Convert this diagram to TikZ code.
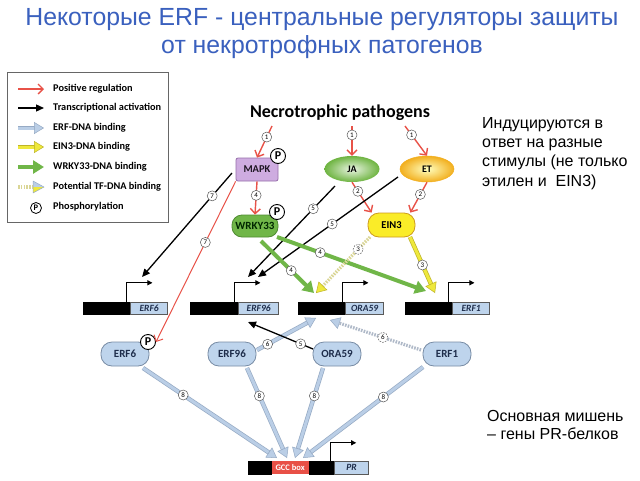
\documentclass[tikz,border=0pt]{standalone}
\usepackage{fontspec}
\setmainfont{Liberation Sans}
\newfontfamily\calfont{Carlito}
\usetikzlibrary{arrows.meta,shapes.geometric,calc}
\definecolor{titleblue}{RGB}{58,96,190}
\definecolor{redarr}{RGB}{232,82,72}
\definecolor{mapkfill}{RGB}{206,172,224}
\definecolor{mapkdraw}{RGB}{150,110,170}
\definecolor{wrkyfill}{RGB}{112,182,72}
\definecolor{wrkydraw}{RGB}{80,140,50}
\definecolor{ein3fill}{RGB}{250,236,40}
\definecolor{ein3draw}{RGB}{205,155,30}
\definecolor{protfill}{RGB}{190,212,236}
\definecolor{protdraw}{RGB}{120,140,165}
\definecolor{prottext}{RGB}{30,45,75}
\definecolor{bluearr}{RGB}{186,206,230}
\definecolor{bluearredge}{RGB}{150,170,196}
\definecolor{greenarr}{RGB}{112,182,72}
\definecolor{yellowarr}{RGB}{238,232,60}
\definecolor{yellowedge}{RGB}{190,180,40}
\definecolor{stripey}{RGB}{218,214,150}
\definecolor{stripeb}{RGB}{175,185,200}
\definecolor{gccred}{RGB}{232,80,70}
\definecolor{jagreen}{RGB}{110,180,65}
\definecolor{etorange}{RGB}{242,175,30}
\begin{document}
\begin{tikzpicture}[x=1pt,y=-1pt,
  lab/.style={circle,draw=gray!70!black,fill=white,line width=0.5pt,inner sep=0pt,minimum size=10pt,text=black,font=\calfont\fontsize{7}{7}\selectfont},
  pcirc/.style={circle,draw=black,fill=white,line width=0.9pt,inner sep=0pt,minimum size=15pt,font=\calfont\bfseries\fontsize{12}{12}\selectfont},
  redarrow/.style={draw=redarr,line width=1.4pt,-{Straight Barb[length=5pt,width=10pt]}},
  thinred/.style={draw=redarr,line width=1pt,-{Straight Barb[length=5pt,width=10pt]}},
  blackarrow/.style={draw=black,line width=1.3pt,-{Triangle[length=8pt,width=7pt]}},
  bluebind/.style={draw=bluearr,line width=3pt,preaction={draw=bluearredge,line width=4.4pt,-,shorten >=8pt},-{Triangle[length=10pt,width=12pt,fill=bluearr,color=bluearredge,line width=0.5pt]}},
  yellowbind/.style={draw=yellowarr,line width=3pt,preaction={draw=yellowedge,line width=4.4pt,-,shorten >=8pt},-{Triangle[length=10pt,width=12pt,fill=yellowarr,color=yellowedge,line width=0.5pt]}},
  greenbind/.style={draw=greenarr,line width=4pt,-{Triangle[length=11pt,width=13pt]}},
  potyellow/.style={draw=stripey,line width=3.2pt,dash pattern=on 1.6pt off 1.2pt,-{Triangle[length=10pt,width=12pt,fill=yellowarr,color=yellowedge,line width=0.5pt]}},
  potblue/.style={draw=stripeb,line width=3.2pt,dash pattern=on 1.6pt off 1.2pt,-{Triangle[length=10pt,width=12pt,fill=bluearr,color=bluearredge,line width=0.5pt]}},
  prot/.style={rectangle,rounded corners=11pt,draw=protdraw,fill=protfill,line width=0.8pt,minimum width=48pt,minimum height=24pt,inner sep=0pt,text=prottext,font=\calfont\bfseries\fontsize{11}{11}\selectfont},
  gblack/.style={rectangle,fill=black,draw=black,minimum height=12pt,inner sep=0pt},
  glabel/.style={rectangle,fill=protfill,draw=gray!70!black,line width=0.5pt,minimum height=12pt,inner sep=0pt,text=prottext,font=\calfont\bfseries\itshape\fontsize{9.5}{9.5}\selectfont},
  prom/.style={draw=black,line width=1pt,-{Triangle[length=5pt,width=5pt]}},
  legtext/.style={anchor=west,inner sep=0pt,font=\calfont\bfseries\fontsize{10.3}{10.3}\selectfont},
]
\useasboundingbox (0,0) rectangle (640,480);
\fill[white] (0,0) rectangle (640,480);

% title
\node[text=titleblue,font=\fontsize{24.8}{24.8}\selectfont] (t1) at (322,20) {Некоторые ERF - центральные регуляторы защиты};
\node[text=titleblue,font=\fontsize{24.8}{24.8}\selectfont] (t2) at (322,47) {от некротрофных патогенов};

% legend
\node[draw=gray!80!black,line width=0.8pt,minimum width=161pt,minimum height=150pt,anchor=north west] (leg) at (7,72) {};
\coordinate (la1) at (18,89);  \coordinate (lb1) at (44,89);
\coordinate (la2) at (18,108); \coordinate (lb2) at (44,108);
\coordinate (la3) at (18,128); \coordinate (lb3) at (44,128);
\coordinate (la4) at (18,147); \coordinate (lb4) at (44,147);
\coordinate (la5) at (18,167); \coordinate (lb5) at (44,167);
\coordinate (la6) at (18,187); \coordinate (lb6) at (34,187);
\draw[redarrow] (la1) -- (lb1);
\draw[blackarrow] (la2) -- (lb2);
\draw[bluebind] (la3) -- (lb3);
\draw[yellowbind] (la4) -- (lb4);
\draw[greenbind] (la5) -- (lb5);
\draw[draw=stripey,line width=3.2pt,dash pattern=on 1.6pt off 1.2pt] (la6) -- (lb6);
\fill[bluearr] (33,181) -- (44,187) -- (33,187) -- cycle;
\fill[yellowarr] (33,187) -- (44,187) -- (33,193) -- cycle;
\draw[bluearredge,line width=0.5pt,line join=round] (33,181) -- (44,187) -- (33,193) -- cycle;
\node[circle,draw=black,fill=white,line width=0.8pt,inner sep=0pt,minimum size=11pt,font=\calfont\bfseries\fontsize{8.5}{8.5}\selectfont] (lp) at (36,208) {P};
\node[legtext] (lt1) at (53,89) {Positive regulation};
\node[legtext] (lt2) at (53,108) {Transcriptional activation};
\node[legtext] (lt3) at (53,128) {ERF-DNA binding};
\node[legtext] (lt4) at (53,147) {EIN3-DNA binding};
\node[legtext] (lt5) at (53,167) {WRKY33-DNA binding};
\node[legtext] (lt6) at (53,187) {Potential TF-DNA binding};
\node[legtext] (lt7) at (53,207) {Phosphorylation};

% top
\node[font=\calfont\bfseries\fontsize{18}{18}\selectfont] (np) at (340,113) {Necrotrophic pathogens};
\node[rectangle,rounded corners=2pt,draw=mapkdraw,fill=mapkfill,line width=0.8pt,minimum width=42pt,minimum height=23pt,inner sep=0pt,text=black!80!mapkdraw,font=\calfont\bfseries\fontsize{10.5}{10.5}\selectfont] (mapk) at (257,169.5) {MAPK};
\node[pcirc] (pm) at (278,156) {P};
\node[ellipse,shade,inner color=jagreen!15,outer color=jagreen,minimum width=55pt,minimum height=26pt,inner sep=0pt,font=\calfont\bfseries\fontsize{10}{10}\selectfont] (ja) at (352,169) {JA};
\node[ellipse,shade,inner color=yellow!25,outer color=etorange,draw=etorange,line width=0.5pt,minimum width=54pt,minimum height=26pt,inner sep=0pt,font=\calfont\bfseries\fontsize{10}{10}\selectfont] (et) at (427,169) {ET};
\node[rectangle,rounded corners=10pt,draw=wrkydraw,fill=wrkyfill,line width=0.8pt,minimum width=46pt,minimum height=22pt,inner sep=0pt,text=black!85!green,font=\calfont\bfseries\fontsize{11}{11}\selectfont] (wrky) at (255,226) {WRKY33};
\node[pcirc] (pw) at (277,212) {P};
\node[rectangle,rounded corners=11pt,draw=ein3draw,fill=ein3fill,line width=0.8pt,minimum width=47pt,minimum height=24pt,inner sep=0pt,font=\calfont\bfseries\fontsize{10.5}{10.5}\selectfont] (ein3) at (391.5,225) {EIN3};

% genes
\newcommand\mkgene[6]{%
 \node[gblack,minimum width=#3pt,anchor=west] (#1b) at (#2,308) {};
 \node[glabel,minimum width=#4pt,anchor=west] (#1l) at (#1b.east) {#5};
 \draw[prom] ([xshift=#6pt]#1b.north east) -- ++(0,-19) -- ++(26,0);
}
\mkgene{gsix}{83}{47}{37}{ERF6}{-4}
\mkgene{gnn}{190}{48}{40}{ERF96}{-4}
\mkgene{gora}{298}{47}{38}{ORA59}{-3}
\mkgene{gone}{405}{47}{37}{ERF1}{-4}

% proteins
\node[prot] (erfsix) at (125,354) {ERF6};
\node[pcirc] (psix) at (148,342) {P};
\node[prot] (erfnn) at (232,354) {ERF96};
\node[prot] (ora) at (337,354) {ORA59};
\node[prot] (erfone) at (447,354) {ERF1};

% PR gene
\node[gblack,minimum width=23pt,minimum height=13pt,anchor=west] (prb1) at (248,467.5) {};
\node[rectangle,fill=gccred,minimum width=37pt,minimum height=13pt,inner sep=0pt,anchor=west,text=white,font=\calfont\bfseries\fontsize{8.5}{8.5}\selectfont] (gcc) at (prb1.east) {GCC box};
\node[gblack,minimum width=25pt,minimum height=13pt,anchor=west] (prb2) at (gcc.east) {};
\node[glabel,minimum width=34pt,minimum height=13pt,anchor=west] (prl) at (prb2.east) {PR};
\draw[prom] ([xshift=-4pt]prb2.north east) -- ++(0,-18) -- ++(26,0);

% coordinates
\coordinate (s1a) at (272,126);
\coordinate (s1b) at (352,126);
\coordinate (s1c) at (405,126);
\coordinate (b7s) at (232,173);
\coordinate (t6) at (142,277);
\coordinate (j5) at (335,186);
\coordinate (e5) at (398,177);
\coordinate (t96a) at (248,277);
\coordinate (t96b) at (258,277);
\coordinate (w1) at (261,241);
\coordinate (w2) at (277,237);
\coordinate (tora1) at (314,293);
\coordinate (tone1) at (426,291);
\coordinate (ei1) at (370,237);
\coordinate (ei2) at (410,237);
\coordinate (tora2) at (316,293);
\coordinate (tone2) at (435,293);
\coordinate (tora3) at (316,318);
\coordinate (tora4) at (330,320);
\coordinate (tnn) at (248,322);
\coordinate (o5) at (313,349);
\coordinate (n6) at (257,350);
\coordinate (one6) at (421,350);
\coordinate (gc1) at (277,458);
\coordinate (gc2) at (287,458);
\coordinate (gc3) at (295,458);
\coordinate (gc4) at (303,458);
\coordinate (f1) at (143,368);
\coordinate (f2) at (247,368);
\coordinate (f3) at (323,368);
\coordinate (f4) at (423,367);

% red arrows
\draw[redarrow] (s1a) -- (mapk.north) node[lab,pos=0.35] {1};
\draw[redarrow] (s1b) -- (ja.north) node[lab,pos=0.3] {1};
\draw[redarrow] (s1c) -- (et.north) node[lab,pos=0.3] {1};
\draw[redarrow] (ja.south) -- ([xshift=4pt]ein3.north west) node[lab,pos=0.3] {2};
\draw[redarrow] (et.south) -- ([xshift=-5pt]ein3.north east) node[lab,pos=0.4] {2};
\draw[redarrow] (mapk.south) -- (wrky.north) node[lab,pos=0.42] {4};
\draw[thinred] (mapk.south west) -- (psix.east) node[lab,pos=0.38] {7};

% black arrows
\draw[blackarrow] (b7s) -- (t6) node[lab,pos=0.22] {7};
\draw[blackarrow] (j5) -- (t96a) node[lab,pos=0.25] {5};
\draw[blackarrow] (e5) -- (t96b) node[lab,pos=0.47] {5};

% green binding
\draw[greenbind] (w2) -- (tone1) node[lab,pos=0.29] {4};
\draw[greenbind] (w1) -- (tora1) node[lab,pos=0.57] {4};

% yellow binding
\draw[potyellow] (ei1) -- (tora2) node[lab,pos=0.22] {3};
\draw[yellowbind] (ei2) -- (tone2) node[lab,pos=0.5] {3};

% ERF binding to genes
\draw[bluebind] (n6) -- (tora3) node[lab,pos=0.18] {6};
\draw[blackarrow] (o5) -- (tnn) node[lab,pos=0.19] {5};
\draw[potblue] (one6) -- (tora4) node[lab,pos=0.42] {6};

% ERF binding to GCC box
\draw[bluebind] (f1) -- (gc1) node[lab,pos=0.3] {8};
\draw[bluebind] (f2) -- (gc2) node[lab,pos=0.31] {8};
\draw[bluebind] (f3) -- (gc3) node[lab,pos=0.31] {8};
\draw[bluebind] (f4) -- (gc4) node[lab,pos=0.33] {8};

% right texts
\node[anchor=north west,align=left,inner sep=0pt,font=\fontsize{16}{19.3}\selectfont] (rt1) at (482,117) {Индуцируются в\\ответ на разные\\стимулы (не только\\этилен и~ EIN3)};
\node[anchor=north west,align=left,inner sep=0pt,font=\fontsize{16}{18.5}\selectfont] (rt2) at (487,410) {Основная мишень\\– гены PR-белков};
\end{tikzpicture}
\end{document}
